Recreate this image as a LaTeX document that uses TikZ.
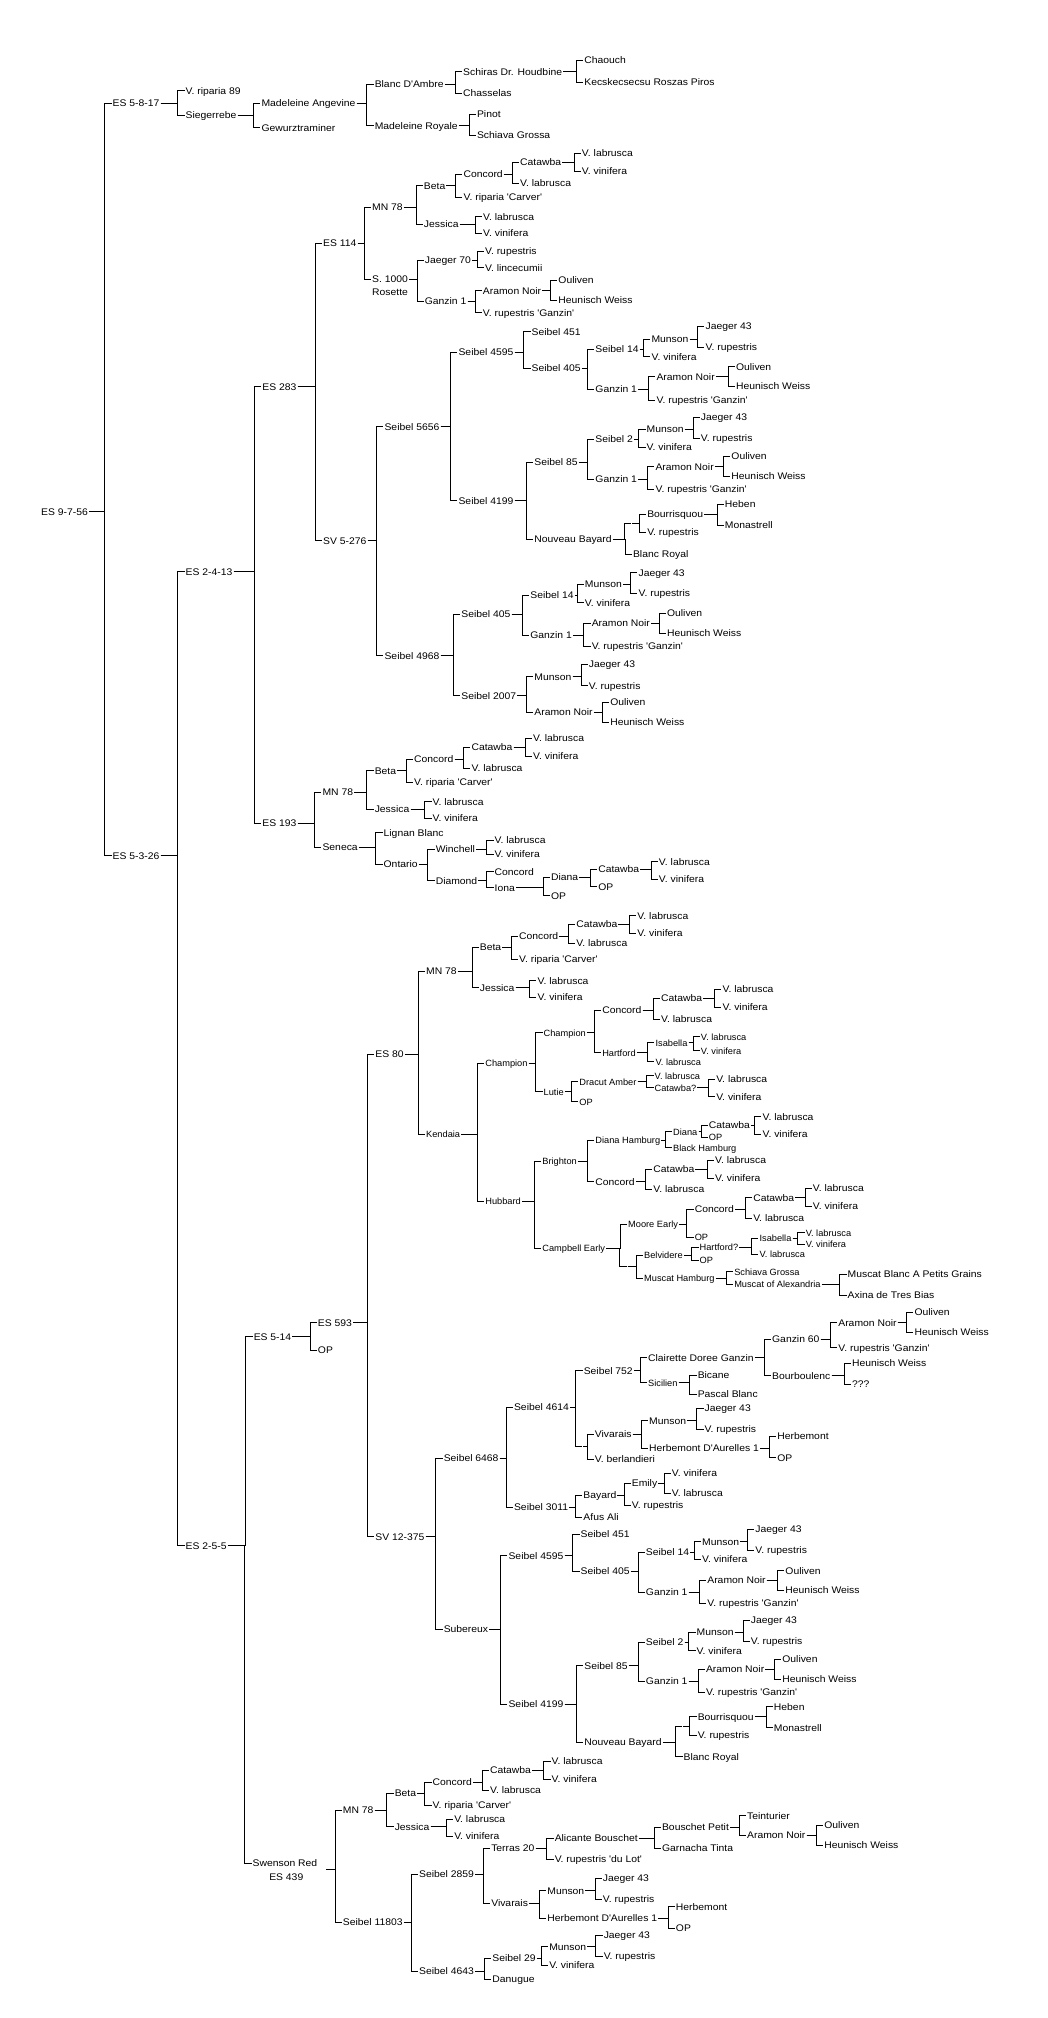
\documentclass[tikz,border=0pt]{standalone}
\usepackage{fontspec}
\setmainfont{Liberation Sans}[FakeStretch=1.08, Ligatures=TeXOff]
\newfontfamily\smallfam{Liberation Sans}[FakeStretch=1.02, Ligatures=TeXOff]

\tikzset{every picture/.style={line width=0.75pt}}
\tikzset{
  lbl/.style={anchor=west, inner sep=0.5pt, font={\fontsize{7.2}{8}\selectfont}, text height=5.25pt, text depth=0pt},
  lbs/.style={lbl, font={\smallfam\fontsize{6.8}{7.5}\selectfont}, text height=4.95pt},
  knot/.style={inner sep=0pt, minimum size=0pt}
}
% child label #3 of parent #2, placed at (#4,#5), with its bracket line
\newcommand{\kid}[6][lbl]{%
  \node[#1] (#3) at (#4,#5) {#6};
  \draw (#2.east) -| ([xshift=-5pt]#3.west) -- (#3.west);}
% unnamed crossing point #2 of parent #1 at (#3,#4)
\newcommand{\knot}[4]{%
  \node[knot] (#2) at (#3,#4) {};
  \draw (#1.east) -| ([xshift=-5pt]#2.west) -- (#2.west);}

\begin{document}
\begin{tikzpicture}[x=0.75pt,y=0.75pt,yscale=-1,xscale=1]
\useasboundingbox (0,0) rectangle (1047,2018);

% root
\node[lbl] (root) at (40,511.7) {ES 9-7-56};

% ES 5-8-17
\kid{root}{a}{111.5}{103.3}{ES 5-8-17}
\kid{a}{a1}{184.5}{90.7}{V. riparia 89}
\kid{a}{a2}{184.5}{115}{Siegerrebe}
\kid{a2}{a21}{260.4}{103.3}{Madeleine Angevine}
\kid{a2}{a22}{260.4}{127.7}{Gewurztraminer}
\kid{a21}{a211}{373.6}{84}{Blanc D'Ambre}
\kid{a21}{a212}{373.6}{125.7}{Madeleine Royale}
\kid{a211}{a2111}{462}{71.7}{Schiras Dr. Houdbine}
\kid{a211}{a2112}{462}{93.3}{Chasselas}
\kid{a2111}{a21111}{583.2}{60.3}{Chaouch}
\kid{a2111}{a21112}{583.2}{82.3}{Kecskecsecsu Roszas Piros}
\kid{a212}{a2121}{475.9}{114.3}{Pinot}
\kid{a212}{a2122}{475.9}{135}{Schiava Grossa}

% ES 5-3-26
\kid{root}{es5326}{111.5}{855.7}{ES 5-3-26}
\kid{es5326}{es2413}{184.5}{571.7}{ES 2-4-13}
\kid{es5326}{es255}{184.5}{1545.7}{ES 2-5-5}
\kid{es2413}{es283}{261.3}{386.7}{ES 283}
\kid{es2413}{es193}{261.3}{823.3}{ES 193}
\kid{es283}{b}{322}{243.3}{ES 114}
\kid{es283}{c}{322}{540.7}{SV 5-276}

% ES 114
\kid{b}{b1}{371}{207.3}{MN 78}
\kid{b1}{b11}{422.8}{185.7}{Beta}
\kid{b11}{b111}{462.4}{174.3}{Concord}
\kid{b111}{b1111}{519}{162.3}{Catawba}
\kid{b1111}{b11111}{580.8}{153.3}{V. labrusca}
\kid{b1111}{b11112}{580.8}{171}{V. vinifera}
\kid{b111}{b1112}{519}{183.3}{V. labrusca}
\kid{b11}{b112}{462.4}{197.3}{V. riparia 'Carver'}
\kid{b1}{b12}{422.8}{224}{Jessica}
\kid{b12}{b121}{482}{216.7}{V. labrusca}
\kid{b12}{b122}{482}{233.3}{V. vinifera}
\kid{b}{b2}{371}{279}{S. 1000}
\node[lbl] (b2r) at (371,292.3) {Rosette};
\kid{b2}{b21}{423.7}{260}{Jaeger 70}
\kid{b21}{b211}{483.9}{251}{V. rupestris}
\kid{b21}{b212}{483.9}{267.7}{V. lincecumii}
\kid{b2}{b22}{423.7}{301}{Ganzin 1}
\kid{b22}{b221}{481.8}{290.7}{Aramon Noir}
\kid{b221}{b2211}{557.3}{280}{Ouliven}
\kid{b221}{b2212}{557.3}{300}{Heunisch Weiss}
\kid{b22}{b222}{481.8}{312.7}{V. rupestris 'Ganzin'}

% SV 5-276
\kid{c}{c1}{383.4}{426.7}{Seibel 5656}
\kid{c1}{c11}{457.4}{352.3}{Seibel 4595}
\kid{c11}{c111}{530.5}{331.7}{Seibel 451}
\kid{c11}{c112}{530.5}{368.3}{Seibel 405}
\kid{c112}{c1121}{594.3}{349.3}{Seibel 14}
\kid{c1121}{c11211}{650.4}{339}{Munson}
\kid{c11211}{c112111}{704.4}{326}{Jaeger 43}
\kid{c11211}{c112112}{704.4}{347.3}{V. rupestris}
\kid{c1121}{c11212}{650.4}{356.7}{V. vinifera}
\kid{c112}{c1122}{594.3}{389}{Ganzin 1}
\kid{c1122}{c11221}{655.4}{376.7}{Aramon Noir}
\kid{c11221}{c112211}{734.9}{366.7}{Ouliven}
\kid{c11221}{c112212}{734.9}{386}{Heunisch Weiss}
\kid{c1122}{c11222}{655.4}{400}{V. rupestris 'Ganzin'}
\kid{c1}{c12}{457.4}{500.7}{Seibel 4199}
\kid{c12}{c121}{533.3}{462.3}{Seibel 85}
\kid{c121}{c1211}{594.3}{439.3}{Seibel 2}
\kid{c1211}{c12111}{645.5}{429.3}{Munson}
\kid{c12111}{c121111}{699.8}{417.3}{Jaeger 43}
\kid{c12111}{c121112}{699.8}{438.3}{V. rupestris}
\kid{c1211}{c12112}{645.5}{447.3}{V. vinifera}
\kid{c121}{c1212}{594.3}{479}{Ganzin 1}
\kid{c1212}{c12121}{654.4}{466.7}{Aramon Noir}
\kid{c12121}{c121211}{730.3}{456.3}{Ouliven}
\kid{c12121}{c121212}{730.3}{476}{Heunisch Weiss}
\kid{c1212}{c12122}{654.4}{489}{V. rupestris 'Ganzin'}
\kid{c12}{c122}{533.3}{539.3}{Nouveau Bayard}
\knot{c122}{c1221}{631.9}{523.3}
\kid{c1221}{c12211}{646.1}{514}{Bourrisquou}
\kid{c12211}{c122111}{723.8}{504}{Heben}
\kid{c12211}{c122112}{723.8}{525}{Monastrell}
\kid{c1221}{c12212}{646.1}{532.3}{V. rupestris}
\kid{c122}{c1222}{631.9}{554}{Blanc Royal}
\kid{c}{c2}{383.4}{655.7}{Seibel 4968}
\kid{c2}{c21}{460.2}{614.3}{Seibel 405}
\kid{c21}{c211}{529.2}{595}{Seibel 14}
\kid{c211}{c2111}{583.8}{584.3}{Munson}
\kid{c2111}{c21111}{637.4}{572.7}{Jaeger 43}
\kid{c2111}{c21112}{637.4}{593.3}{V. rupestris}
\kid{c211}{c2112}{583.8}{602.7}{V. vinifera}
\kid{c21}{c212}{529.2}{635}{Ganzin 1}
\kid{c212}{c2121}{590.6}{623.3}{Aramon Noir}
\kid{c2121}{c21211}{665.9}{613.3}{Ouliven}
\kid{c2121}{c21212}{665.9}{633.3}{Heunisch Weiss}
\kid{c212}{c2122}{590.6}{646}{V. rupestris 'Ganzin'}
\kid{c2}{c22}{460.2}{695.7}{Seibel 2007}
\kid{c22}{c221}{533.3}{676.7}{Munson}
\kid{c221}{c2211}{587.8}{664}{Jaeger 43}
\kid{c221}{c2212}{587.8}{685.7}{V. rupestris}
\kid{c22}{c222}{533.3}{712.3}{Aramon Noir}
\kid{c222}{c2221}{609.1}{702.3}{Ouliven}
\kid{c222}{c2222}{609.1}{722.3}{Heunisch Weiss}

% ES 193
\kid{es193}{d1}{321.4}{792.3}{MN 78}
\kid{d1}{d11}{373.6}{770.7}{Beta}
\kid{d11}{d111}{413}{759.3}{Concord}
\kid{d111}{d1111}{470.4}{747.3}{Catawba}
\kid{d1111}{d11111}{532}{738.3}{V. labrusca}
\kid{d1111}{d11112}{532}{756}{V. vinifera}
\kid{d111}{d1112}{470.4}{768.3}{V. labrusca}
\kid{d11}{d112}{413}{782.3}{V. riparia 'Carver'}
\kid{d1}{d12}{373.6}{809}{Jessica}
\kid{d12}{d121}{431.5}{801.7}{V. labrusca}
\kid{d12}{d122}{431.5}{818.3}{V. vinifera}
\kid{es193}{d2}{321.4}{847.3}{Seneca}
\kid{d2}{d21}{382.5}{832.5}{Lignan Blanc}
\kid{d2}{d22}{382.5}{864.3}{Ontario}
\kid{d22}{d221}{434.6}{849.3}{Winchell}
\kid{d221}{d2211}{493.5}{840}{V. labrusca}
\kid{d221}{d2212}{493.5}{854.3}{V. vinifera}
\kid{d22}{d222}{434.6}{880.7}{Diamond}
\kid{d222}{d2221}{493.5}{871.7}{Concord}
\kid{d222}{d2222}{493.5}{887.7}{Iona}
\kid{d2222}{d22221}{549.9}{877.3}{Diana}
\kid{d22221}{d222211}{597.1}{869.3}{Catawba}
\kid{d222211}{d2222111}{657.8}{861.7}{V. labrusca}
\kid{d222211}{d2222112}{657.8}{879.3}{V. vinifera}
\kid{d22221}{d222212}{597.1}{886.7}{OP}
\kid{d2222}{d22222}{549.9}{895.7}{OP}

% ES 2-5-5
\kid{es255}{es514}{252.6}{1336.7}{ES 5-14}
\kid{es514}{es593}{316.8}{1322.7}{ES 593}
\kid{es514}{es514op}{316.8}{1350}{OP}
\kid{es593}{e}{374.2}{1054.3}{ES 80}
\kid{es593}{f}{374.2}{1536.7}{SV 12-375}

% ES 80
\kid{e}{e1}{425}{971}{MN 78}
\kid{e1}{e11}{478.7}{947.3}{Beta}
\kid{e11}{e111}{517.9}{936}{Concord}
\kid{e111}{e1111}{575.2}{924.3}{Catawba}
\kid{e1111}{e11111}{636.3}{915.7}{V. labrusca}
\kid{e1111}{e11112}{636.3}{933.3}{V. vinifera}
\kid{e111}{e1112}{575.2}{943.3}{V. labrusca}
\kid{e11}{e112}{517.9}{959.3}{V. riparia 'Carver'}
\kid{e1}{e12}{478.7}{987.7}{Jessica}
\kid{e12}{e121}{536.4}{980.7}{V. labrusca}
\kid{e12}{e122}{536.4}{997.3}{V. vinifera}
\kid[lbs]{e}{e2}{425}{1134}{Kendaia}
\kid[lbs]{e2}{e21}{484.2}{1063.3}{Champion}
\kid[lbs]{e21}{e211}{542.5}{1032.7}{Champion}
\kid{e211}{e2111}{601.1}{1010}{Concord}
\kid{e2111}{e21111}{660}{998.3}{Catawba}
\kid{e21111}{e211111}{721.4}{989.3}{V. labrusca}
\kid{e21111}{e211112}{721.4}{1007.3}{V. vinifera}
\kid{e2111}{e21112}{660}{1019}{V. labrusca}
\kid[lbs]{e211}{e2112}{601.1}{1052.7}{Hartford}
\kid[lbs]{e2112}{e21121}{654.4}{1042.7}{Isabella}
\kid[lbs]{e21121}{e211211}{699.8}{1036.7}{V. labrusca}
\kid[lbs]{e21121}{e211212}{699.8}{1050.7}{V. vinifera}
\kid[lbs]{e2112}{e21122}{654.4}{1061.7}{V. labrusca}
\kid[lbs]{e21}{e212}{542.5}{1091.7}{Lutie}
\kid[lbs]{e212}{e2121}{578.2}{1081.7}{Dracut Amber}
\kid[lbs]{e2121}{e21211}{653.5}{1075.7}{V. labrusca}
\kid[lbs]{e2121}{e21212}{653.5}{1087.7}{Catawba?}
\kid{e21212}{e212121}{715.1}{1079.3}{V. labrusca}
\kid{e21212}{e212122}{715.1}{1096.7}{V. vinifera}
\kid[lbs]{e212}{e2122}{578.2}{1101.7}{OP}
\kid[lbs]{e2}{e22}{484.2}{1201}{Hubbard}
\kid[lbs]{e22}{e221}{541.2}{1161}{Brighton}
\kid[lbs]{e221}{e2211}{594.3}{1140}{Diana Hamburg}
\kid[lbs]{e2211}{e22111}{672}{1131.7}{Diana}
\kid{e22111}{e221111}{707.7}{1125}{Catawba}
\kid{e221111}{e2211111}{761.4}{1116.7}{V. labrusca}
\kid{e221111}{e2211112}{761.4}{1134}{V. vinifera}
\kid[lbs]{e22111}{e221112}{707.7}{1137.3}{OP}
\kid[lbs]{e2211}{e22112}{672}{1147.7}{Black Hamburg}
\kid{e221}{e2212}{594.3}{1181.7}{Concord}
\kid{e2212}{e22121}{652.2}{1169.3}{Catawba}
\kid{e22121}{e221211}{714}{1160}{V. labrusca}
\kid{e22121}{e221212}{714}{1178.3}{V. vinifera}
\kid{e2212}{e22122}{652.2}{1189.3}{V. labrusca}
\kid[lbs]{e22}{e222}{541.2}{1248.3}{Campbell Early}
\kid[lbs]{e222}{e2221}{627}{1224}{Moore Early}
\kid{e2221}{e22211}{693.6}{1209.3}{Concord}
\kid{e22211}{e222111}{752.1}{1197.7}{Catawba}
\kid{e222111}{e2221111}{811.7}{1188.3}{V. labrusca}
\kid{e222111}{e2221112}{811.7}{1206}{V. vinifera}
\kid{e22211}{e222112}{752.1}{1218.3}{V. labrusca}
\kid[lbs]{e2221}{e22212}{693.6}{1237.3}{OP}
\knot{e222}{e2222}{627}{1266}
\kid[lbs]{e2222}{e22221}{643}{1255}{Belvidere}
\kid[lbs]{e22221}{e222211}{698.5}{1247.3}{Hartford?}
\kid[lbs]{e222211}{e2222111}{758.4}{1238.3}{Isabella}
\kid[lbs]{e2222111}{e22221111}{804.6}{1232.7}{V. labrusca}
\kid[lbs]{e2222111}{e22221112}{804.6}{1244}{V. vinifera}
\kid[lbs]{e222211}{e2222112}{758.4}{1254}{V. labrusca}
\kid[lbs]{e22221}{e222212}{698.5}{1260}{OP}
\kid[lbs]{e2222}{e22222}{643}{1278.3}{Muscat Hamburg}
\kid[lbs]{e22222}{e222221}{733.1}{1271.7}{Schiava Grossa}
\kid[lbs]{e22222}{e222222}{733.1}{1284.3}{Muscat of Alexandria}
\kid{e222222}{e2222221}{846.5}{1274.3}{Muscat Blanc A Petits Grains}
\kid{e222222}{e2222222}{846.5}{1295}{Axina de Tres Bias}

% SV 12-375
\kid{f}{f1}{442.6}{1458.3}{Seibel 6468}
\kid{f1}{f11}{512.9}{1407.3}{Seibel 4614}
\kid{f11}{f111}{582.6}{1370.7}{Seibel 752}
\kid{f111}{f1111}{647}{1357.7}{Clairette Doree Ganzin}
\kid{f1111}{f11111}{771}{1339}{Ganzin 60}
\kid{f11111}{f111111}{837.2}{1322.7}{Aramon Noir}
\kid{f111111}{f1111111}{913.4}{1312.3}{Ouliven}
\kid{f111111}{f1111112}{913.4}{1332.3}{Heunisch Weiss}
\kid{f11111}{f111112}{837.2}{1347.7}{V. rupestris 'Ganzin'}
\kid{f1111}{f11112}{771}{1375.7}{Bourboulenc}
\kid{f11112}{f111121}{850.9}{1363.3}{Heunisch Weiss}
\kid{f11112}{f111122}{850.9}{1384.3}{???}
\kid[lbs]{f111}{f1112}{647}{1382.7}{Sicilien}
\kid{f1112}{f11121}{696.6}{1375}{Bicane}
\kid{f1112}{f11122}{696.6}{1394}{Pascal Blanc}
\knot{f11}{f112}{582.6}{1446.7}
\kid{f112}{f1121}{593.7}{1434}{Vivarais}
\kid{f1121}{f11211}{648}{1420.7}{Munson}
\kid{f11211}{f112111}{703.5}{1408.3}{Jaeger 43}
\kid{f11211}{f112112}{703.5}{1429.3}{V. rupestris}
\kid{f1121}{f11212}{648}{1448.3}{Herbemont D'Aurelles 1}
\kid{f11212}{f112121}{776.2}{1436}{Herbemont}
\kid{f11212}{f112122}{776.2}{1457.7}{OP}
\kid{f112}{f1122}{593.7}{1459.3}{V. berlandieri}
\kid{f1}{f12}{512.9}{1507.3}{Seibel 3011}
\kid{f12}{f121}{582.3}{1495}{Bayard}
\kid{f121}{f1211}{630.7}{1483.3}{Emily}
\kid{f1211}{f12111}{670.7}{1473.3}{V. vinifera}
\kid{f1211}{f12112}{670.7}{1493.3}{V. labrusca}
\kid{f121}{f1212}{630.7}{1505}{V. rupestris}
\kid{f12}{f122}{582.3}{1517.3}{Afus Ali}
\kid{f}{f2}{442.6}{1629.3}{Subereux}
\kid{f2}{f21}{507.4}{1555.7}{Seibel 4595}
\kid{f21}{f211}{579.5}{1534}{Seibel 451}
\kid{f21}{f212}{579.5}{1571}{Seibel 405}
\kid{f212}{f2121}{644.8}{1552.3}{Seibel 14}
\kid{f2121}{f21211}{701}{1541.7}{Munson}
\kid{f21211}{f212111}{754.3}{1529.3}{Jaeger 43}
\kid{f21211}{f212112}{754.3}{1550}{V. rupestris}
\kid{f2121}{f21212}{701}{1559.3}{V. vinifera}
\kid{f212}{f2122}{644.8}{1592.3}{Ganzin 1}
\kid{f2122}{f21221}{706.2}{1580}{Aramon Noir}
\kid{f21221}{f212211}{784.3}{1570.7}{Ouliven}
\kid{f21221}{f212212}{784.3}{1590}{Heunisch Weiss}
\kid{f2122}{f21222}{706.2}{1603.3}{V. rupestris 'Ganzin'}
\kid{f2}{f22}{507.4}{1704}{Seibel 4199}
\kid{f22}{f221}{583.2}{1665.7}{Seibel 85}
\kid{f221}{f2211}{644.8}{1642.3}{Seibel 2}
\kid{f2211}{f22111}{695.5}{1632.3}{Munson}
\kid{f22111}{f221111}{749.7}{1620}{Jaeger 43}
\kid{f22111}{f221112}{749.7}{1641}{V. rupestris}
\kid{f2211}{f22112}{695.5}{1650.7}{V. vinifera}
\kid{f221}{f2212}{644.8}{1681}{Ganzin 1}
\kid{f2212}{f22121}{704.9}{1669.3}{Aramon Noir}
\kid{f22121}{f221211}{781.2}{1659.3}{Ouliven}
\kid{f22121}{f221212}{781.2}{1679}{Heunisch Weiss}
\kid{f2212}{f22122}{704.9}{1692.3}{V. rupestris 'Ganzin'}
\kid{f22}{f222}{583.2}{1742.3}{Nouveau Bayard}
\knot{f222}{f2221}{682.5}{1726}
\kid{f2221}{f22211}{696.6}{1716.7}{Bourrisquou}
\kid{f22211}{f222111}{772.8}{1706.7}{Heben}
\kid{f22211}{f222112}{772.8}{1727.7}{Monastrell}
\kid{f2221}{f22212}{696.6}{1735}{V. rupestris}
\kid{f222}{f2222}{682.5}{1756.7}{Blanc Royal}

% Swenson Red / ES 439
\kid{es255}{g}{251.5}{1863.3}{Swenson Red}
\node[lbl] (es439) at (268.1,1877.3) {ES 439};
\node[knot] (gout) at (325.5,1869.3) {};
\kid{gout}{g1}{341.8}{1810}{MN 78}
\kid{g1}{g11}{393.6}{1793.3}{Beta}
\kid{g11}{g111}{431.5}{1782.3}{Concord}
\kid{g111}{g1111}{488.9}{1770}{Catawba}
\kid{g1111}{g11111}{550.5}{1761}{V. labrusca}
\kid{g1111}{g11112}{550.5}{1779}{V. vinifera}
\kid{g111}{g1112}{488.9}{1790}{V. labrusca}
\kid{g11}{g112}{431.5}{1805}{V. riparia 'Carver'}
\kid{g1}{g12}{393.6}{1826.7}{Jessica}
\kid{g12}{g121}{453.1}{1819.3}{V. labrusca}
\kid{g12}{g122}{453.1}{1836}{V. vinifera}
\kid{gout}{g2}{341.8}{1922.3}{Seibel 11803}
\kid{g2}{g21}{418}{1874}{Seibel 2859}
\kid{g21}{g211}{490.1}{1848.3}{Terras 20}
\kid{g211}{g2111}{553.6}{1838.3}{Alicante Bouschet}
\kid{g2111}{g21111}{660.9}{1827.3}{Bouschet Petit}
\kid{g21111}{g211111}{746}{1815.7}{Teinturier}
\kid{g21111}{g211112}{746}{1835}{Aramon Noir}
\kid{g211112}{g2111121}{823.1}{1825}{Ouliven}
\kid{g211112}{g2111122}{823.1}{1845}{Heunisch Weiss}
\kid{g2111}{g21112}{660.9}{1848.3}{Garnacha Tinta}
\kid{g211}{g2112}{553.6}{1859}{V. rupestris 'du Lot'}
\kid{g21}{g212}{490.1}{1903.3}{Vivarais}
\kid{g212}{g2121}{546.2}{1890.7}{Munson}
\kid{g2121}{g21211}{601.7}{1878.3}{Jaeger 43}
\kid{g2121}{g21212}{601.7}{1899}{V. rupestris}
\kid{g212}{g2122}{546.2}{1918.3}{Herbemont D'Aurelles 1}
\kid{g2122}{g21221}{674.8}{1906.7}{Herbemont}
\kid{g2122}{g21222}{674.8}{1928.3}{OP}
\kid{g2}{g22}{418}{1971}{Seibel 4643}
\kid{g22}{g221}{491.3}{1958.3}{Seibel 29}
\kid{g221}{g2211}{548.1}{1946.7}{Munson}
\kid{g2211}{g22111}{602.6}{1935}{Jaeger 43}
\kid{g2211}{g22112}{602.6}{1956}{V. rupestris}
\kid{g221}{g2212}{548.1}{1965}{V. vinifera}
\kid{g22}{g222}{491.3}{1979.3}{Danugue}

\end{tikzpicture}
\end{document}
